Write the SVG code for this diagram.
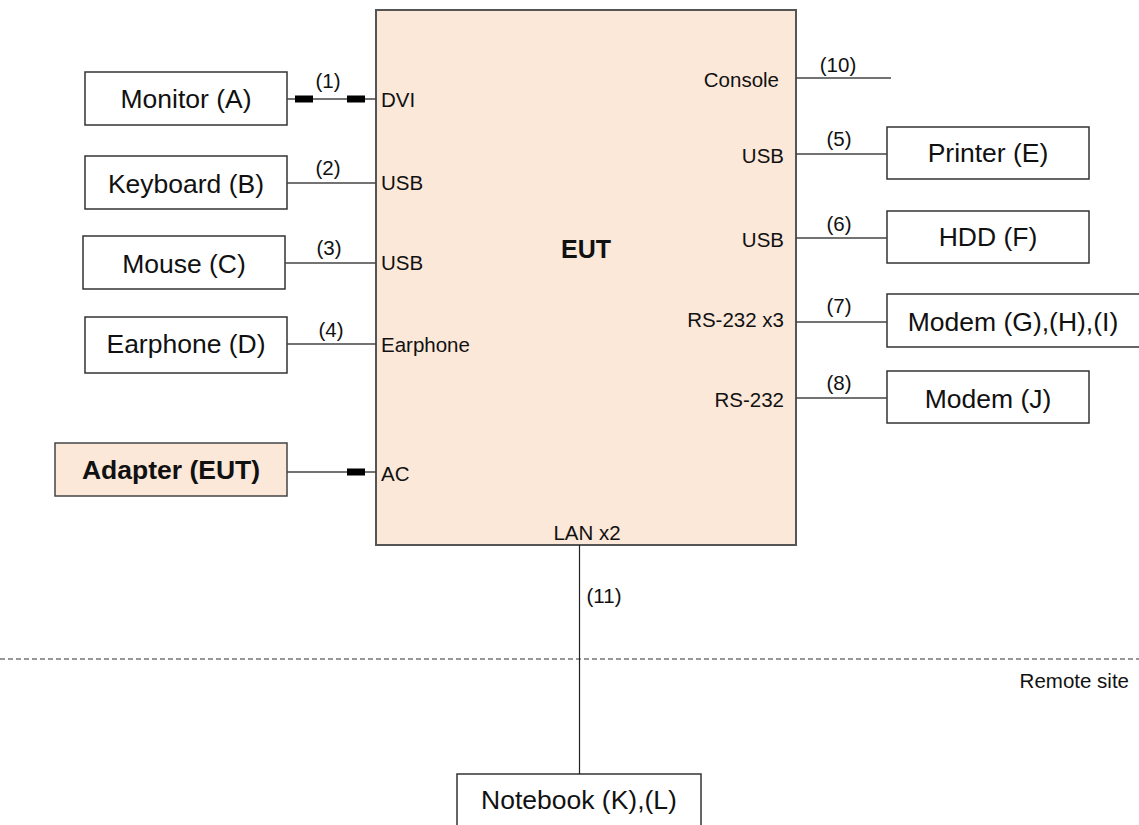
<svg xmlns="http://www.w3.org/2000/svg" width="1139" height="825" viewBox="0 0 1139 825">
<style>
.box{fill:#ffffff;stroke:#333333;stroke-width:1.5}
.eut{fill:#fce8d9;stroke:#555555;stroke-width:2}
.lbl{font-family:"Liberation Sans",Arial,sans-serif;font-size:26.5px;fill:#111111;text-anchor:middle}
.bold{font-weight:bold}
.port{font-family:"Liberation Sans",Arial,sans-serif;font-size:20.5px;fill:#111111}
.num{font-family:"Liberation Sans",Arial,sans-serif;font-size:20.5px;fill:#111111;text-anchor:middle}
.end{text-anchor:end}
.wire{stroke:#444444;stroke-width:1.5;fill:none}
.plug{fill:#000000}
</style>
<g id="eut">
<rect class="eut" x="376" y="10" width="420" height="535"/>
<text class="lbl bold" x="586" y="258" style="font-size:25px">EUT</text>
<text class="port" x="381" y="107">DVI</text>
<text class="port" x="381" y="190">USB</text>
<text class="port" x="381" y="270">USB</text>
<text class="port" x="381" y="352">Earphone</text>
<text class="port" x="381" y="481">AC</text>
<text class="port end" x="779" y="87">Console</text>
<text class="port end" x="784" y="163">USB</text>
<text class="port end" x="784" y="247">USB</text>
<text class="port end" x="784" y="327">RS-232 x3</text>
<text class="port end" x="784" y="407">RS-232</text>
<text class="port" x="587" y="540" text-anchor="middle">LAN x2</text>
</g>
<g id="monitor">
<rect class="box" x="85" y="72" width="202" height="53"/>
<text class="lbl" x="186" y="108">Monitor (A)</text>
</g>
<g id="keyboard">
<rect class="box" x="85" y="156" width="202" height="53"/>
<text class="lbl" x="186" y="193">Keyboard (B)</text>
</g>
<g id="mouse">
<rect class="box" x="83" y="236" width="202" height="53"/>
<text class="lbl" x="184" y="273">Mouse (C)</text>
</g>
<g id="earphone">
<rect class="box" x="85" y="317" width="202" height="56"/>
<text class="lbl" x="186" y="353">Earphone (D)</text>
</g>
<g id="adapter">
<rect class="eut" style="stroke:#444444;stroke-width:1.5" x="55" y="443" width="232" height="53"/>
<text class="lbl bold" x="171" y="479">Adapter (EUT)</text>
</g>
<g id="printer">
<rect class="box" x="887" y="127" width="202" height="52"/>
<text class="lbl" x="988" y="162">Printer (E)</text>
</g>
<g id="hdd">
<rect class="box" x="887" y="211" width="202" height="52"/>
<text class="lbl" x="988" y="246">HDD (F)</text>
</g>
<g id="modem-ghi">
<rect class="box" x="887" y="294" width="270" height="53"/>
<text class="lbl" x="1013" y="331">Modem (G),(H),(I)</text>
</g>
<g id="modem-j">
<rect class="box" x="887" y="371" width="202" height="52"/>
<text class="lbl" x="988" y="408">Modem (J)</text>
</g>
<g id="notebook">
<rect class="box" x="457" y="774" width="244" height="70"/>
<text class="lbl" x="579" y="809">Notebook (K),(L)</text>
</g>
<g id="remote-site">
<line x1="0" y1="659" x2="1139" y2="659" stroke="#333333" stroke-width="1.2" stroke-dasharray="5,3"/>
<text class="port end" x="1129" y="688">Remote site</text>
</g>
<g id="connectors">
<line class="wire" x1="287" y1="99" x2="376" y2="99"/>
<rect class="plug" x="295" y="95.5" width="18" height="7"/>
<rect class="plug" x="347" y="95.5" width="18" height="7"/>
<text class="num" x="328" y="88">(1)</text>
<line class="wire" x1="287" y1="183" x2="376" y2="183"/>
<text class="num" x="328" y="175">(2)</text>
<line class="wire" x1="285" y1="263" x2="376" y2="263"/>
<text class="num" x="329" y="255">(3)</text>
<line class="wire" x1="287" y1="344" x2="376" y2="344"/>
<text class="num" x="331" y="337">(4)</text>
<line class="wire" x1="287" y1="472" x2="376" y2="472"/>
<rect class="plug" x="347" y="468.5" width="18" height="7"/>
<line class="wire" x1="796" y1="78" x2="891" y2="78"/>
<text class="num" x="838" y="72">(10)</text>
<line class="wire" x1="796" y1="154" x2="887" y2="154"/>
<text class="num" x="839" y="146">(5)</text>
<line class="wire" x1="796" y1="238" x2="887" y2="238"/>
<text class="num" x="839" y="231">(6)</text>
<line class="wire" x1="796" y1="322" x2="887" y2="322"/>
<text class="num" x="839" y="313">(7)</text>
<line class="wire" x1="796" y1="398" x2="887" y2="398"/>
<text class="num" x="839" y="390">(8)</text>
<line x1="579.5" y1="545" x2="579.5" y2="774" stroke="#222222" stroke-width="1.2"/>
<text class="num" x="604" y="603">(11)</text>
</g>
</svg>
